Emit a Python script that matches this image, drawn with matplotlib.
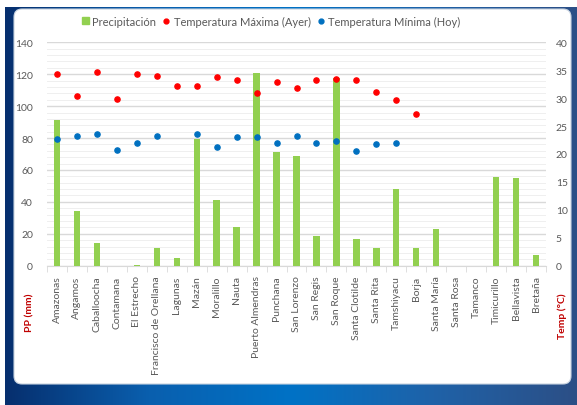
import matplotlib
matplotlib.use("Agg")
import matplotlib.pyplot as plt
import numpy as np
from matplotlib.colors import LinearSegmentedColormap
from matplotlib.patches import FancyBboxPatch
from matplotlib.lines import Line2D
from matplotlib.patches import Patch

plt.rcParams['font.family'] = ['Lato', 'DejaVu Sans']

estaciones = ['Amazonas', 'Angamos', 'Caballoocha', 'Contamana', 'El Estrecho',
              'Francisco de Orellana', 'Lagunas', 'Mazán', 'Moralillo', 'Nauta',
              'Puerto Almendras', 'Punchana', 'San Lorenzo', 'San Regis', 'San Roque',
              'Santa Clotilde', 'Santa Rita', 'Tamshiyacu', 'Borja', 'Santa María',
              'Santa Rosa', 'Tamanco', 'Timicurillo', 'Bellavista', 'Bretaña']

precipitacion = [91.3, 34.3, 14.2, 0.0, 0.4, 10.9, 4.6, 79.4, 41.4, 24.2,
                 121.0, 71.0, 69.0, 18.5, 117.5, 16.6, 10.8, 48.0, 10.8, 23.3,
                 0.0, 0.0, 55.3, 54.9, 6.4]

temp_max = [34.3, 30.4, 34.7, 29.9, 34.3, 33.9, 32.1, 32.1, 33.7, 33.3,
            31.0, 32.9, 31.8, 33.2, 33.5, 33.2, 31.1, 29.7, 27.2, None,
            None, None, None, None, None]

temp_min = [22.6, 23.2, 23.6, 20.8, 22.0, 23.2, None, 23.5, 21.3, 23.0,
            23.0, 22.0, 23.3, 22.0, 22.3, 20.6, 21.8, 22.0, None, None,
            None, None, None, None, None]

W, H = 577, 406
fig = plt.figure(figsize=(W / 100, H / 100), dpi=100)

# fondo azul con degradado y panel blanco
bg = fig.add_axes([0, 0, 1, 1], zorder=-10)
bg.set_xlim(0, W)
bg.set_ylim(H, 0)
bg.axis('off')
cmap = LinearSegmentedColormap.from_list('azul', ['#062f6e', '#0a5fae', '#0072c6', '#1f62a8', '#2c4f86'])
grad = np.linspace(0, 1, 256).reshape(1, -1)
bg.imshow(grad, cmap=cmap, aspect='auto', extent=[5, W, H, 8], zorder=0)
panel = FancyBboxPatch((14, 10), 557, 375, boxstyle='round,pad=0,rounding_size=8',
                       facecolor='white', edgecolor='#c8d3e0', linewidth=0.8, zorder=1)
bg.add_patch(panel)

ax = fig.add_axes([47 / W, 1 - 266.7 / H, (546 - 47) / W, (266.7 - 43.3) / H])
ax2 = ax.twinx()

x = np.arange(len(estaciones))
ax.bar(x, precipitacion, width=0.32, color='#92D050', zorder=3)

tmax = np.array([np.nan if v is None else v for v in temp_max])
tmin = np.array([np.nan if v is None else v for v in temp_min])
ax2.scatter(x, tmax, s=14, color='#FF0000', zorder=4)
ax2.scatter(x, tmin, s=14, color='#0070C0', zorder=4)

ax.set_xlim(-0.5, len(estaciones) - 0.5)
ax.set_ylim(0, 140)
ax2.set_ylim(0, 40)
ax.set_yticks(range(0, 141, 20))
ax2.set_yticks(range(0, 41, 5))

# lineas de cuadricula
for v in range(0, 141, 4):
    if v % 20 == 0:
        ax.axhline(v, color='#d9d9d9', linewidth=1.0, zorder=1)
    else:
        ax.axhline(v, color='#efefef', linewidth=0.7, zorder=1)

ax.set_xticks(x)
ax.set_xticklabels(estaciones, rotation=90, fontsize=7.5, color='#595959')
ax.set_xticks(np.arange(-0.5, len(estaciones)), minor=True)
ax.tick_params(axis='x', which='major', length=0, pad=7)
ax.tick_params(axis='x', which='minor', length=4, color='#d9d9d9')
ax.tick_params(axis='y', length=0, labelsize=7.5, labelcolor='#595959', pad=10)
ax2.tick_params(axis='y', length=0, labelsize=7.5, labelcolor='#595959', pad=7)

for a in (ax, ax2):
    for s in a.spines.values():
        s.set_visible(False)
ax.spines['bottom'].set_visible(True)
ax.spines['bottom'].set_color('#d9d9d9')

fig.text(30 / W, 1 - 313 / H, 'PP (mm)', rotation=90, color='#C00000', fontsize=7.5,
         fontweight='bold', ha='center', va='center')
fig.text(562 / W, 1 - 316 / H, 'Temp (°C)', rotation=90, color='#C00000', fontsize=7.5,
         fontweight='bold', ha='center', va='center')

handles = [Patch(color='#92D050', label='Precipitación'),
           Line2D([], [], marker='o', linestyle='none', color='#FF0000', markersize=3.5,
                  label='Temperatura Máxima (Ayer)'),
           Line2D([], [], marker='o', linestyle='none', color='#0070C0', markersize=3.5,
                  label='Temperatura Mínima (Hoy)')]
fig.legend(handles=handles, loc='center', bbox_to_anchor=(271 / W, 1 - 22 / H), ncol=3,
           frameon=False, fontsize=8, labelcolor='#595959', handlelength=0.6,
           handletextpad=0.35, columnspacing=0.6, handleheight=0.6)

plt.savefig('out.png', dpi=100)
plt.close()
